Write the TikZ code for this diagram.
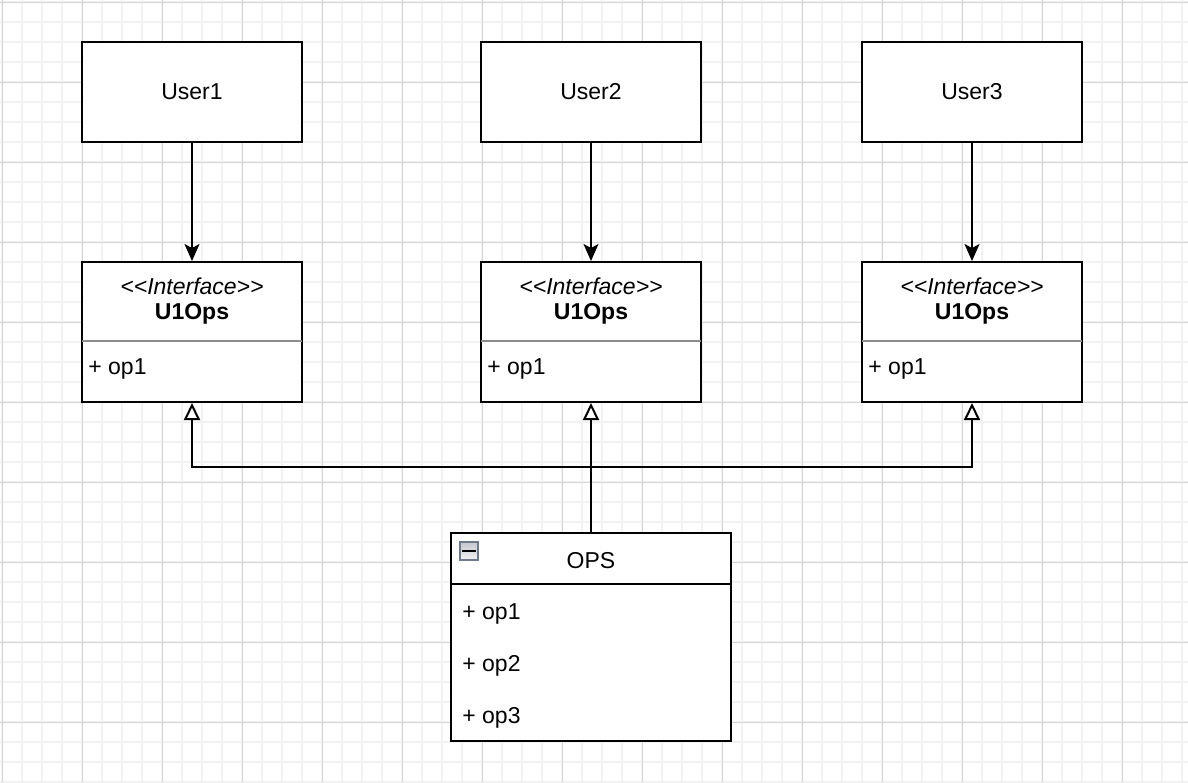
\documentclass[tikz,border=0pt]{standalone}
\usepackage{fontspec}
\setmainfont{Liberation Sans}
\usetikzlibrary{arrows.meta,calc}

\definecolor{gridminor}{HTML}{F2F2F2}
\definecolor{gridmajor}{HTML}{D4D4D4}
\definecolor{sepgray}{HTML}{8C8C8C}
\definecolor{iconedge}{HTML}{6E7A8C}
\definecolor{icontop}{HTML}{C4C8CF}
\definecolor{iconbottom}{HTML}{F2F2F4}

\tikzset{
  base/.style={font=\fontsize{11.5}{14}\selectfont, inner sep=0pt},
  userbox/.style={base, draw, line width=1pt, fill=white,
                  minimum width=110pt, minimum height=50pt},
  ifacebox/.style={draw, line width=1pt, fill=white, inner sep=0pt,
                  minimum width=110pt, minimum height=70pt},
  opsbox/.style={draw, line width=1pt, fill=white, inner sep=0pt,
                  minimum width=140pt, minimum height=104pt},
  stereo/.style={base, font=\fontsize{11.5}{14}\selectfont\itshape},
  clsname/.style={base, font=\fontsize{11.5}{14}\selectfont\bfseries},
  member/.style={base, anchor=west},
  assoc/.style={line width=1pt, -{Stealth[length=8.5pt,width=7.5pt,inset=2pt]}},
  realize/.style={line width=1pt, -{Triangle[length=8.5pt,width=8pt,fill=white]}},
  toggle/.style={draw=iconedge, line width=0.9pt, top color=icontop,
                 bottom color=iconbottom, minimum size=9pt, inner sep=0pt},
}

\begin{document}
\begin{tikzpicture}[x=0.5pt,y=-0.5pt]
  \useasboundingbox (0,0) rectangle (1188,782);
  \fill[white] (0,0) rectangle (1188,782);

  % background grid: fine lines every 20 units, stronger every 80
  \foreach \x in {2,22,...,1188} \draw[gridminor, line width=0.8pt] (\x,0) -- (\x,782);
  \foreach \y in {2,22,...,782} \draw[gridminor, line width=0.8pt] (0,\y) -- (1188,\y);
  \foreach \x in {2,82,...,1188} \draw[gridmajor, line width=0.5pt] (\x,0) -- (\x,782);
  \foreach \y in {2,82,...,782} \draw[gridmajor, line width=0.5pt] (0,\y) -- (1188,\y);

  % users
  \node[userbox] (u1) at (192,92) {User1};
  \node[userbox] (u2) at (591,92) {User2};
  \node[userbox] (u3) at (972,92) {User3};

  % interfaces
  \foreach \n/\x in {1/192, 2/591, 3/972} {
    \node[ifacebox] (i\n) at (\x,332) {};
    \draw[sepgray, line width=1pt] (\x-110,341) -- (\x+110,341);
    \node[stereo] (s\n) at (\x,286) {<\kern0pt<Interface>\kern0pt>};
    \node[clsname] (c\n) at (\x,314) {U1Ops};
    \node[member] (m\n) at (\x-104,369) {+ op1};
  }

  % implementing class
  \node[opsbox] (ops) at (591,637) {};
  \draw[line width=1pt] (ops.west |- 0,584) -- (ops.east |- 0,584);
  \node[base] (opsname) at (591,561) {OPS};
  \node[toggle] (tog) at (469,551) {};
  \draw[line width=1.4pt] ($(tog.west)+(3,0)$) -- ($(tog.east)+(-3,0)$);
  \node[member] (op1) at (462,614) {+ op1};
  \node[member] (op2) at (462,666) {+ op2};
  \node[member] (op3) at (462,718) {+ op3};

  % usage arrows
  \draw[assoc] (u1) -- (i1);
  \draw[assoc] (u2) -- (i2);
  \draw[assoc] (u3) -- (i3);

  % realization arrows
  \coordinate (j) at (591,467);
  \draw[realize] (ops) -- (i2);
  \draw[realize] (j) -| (i1.south);
  \draw[realize] (j) -| (i3.south);
\end{tikzpicture}
\end{document}
